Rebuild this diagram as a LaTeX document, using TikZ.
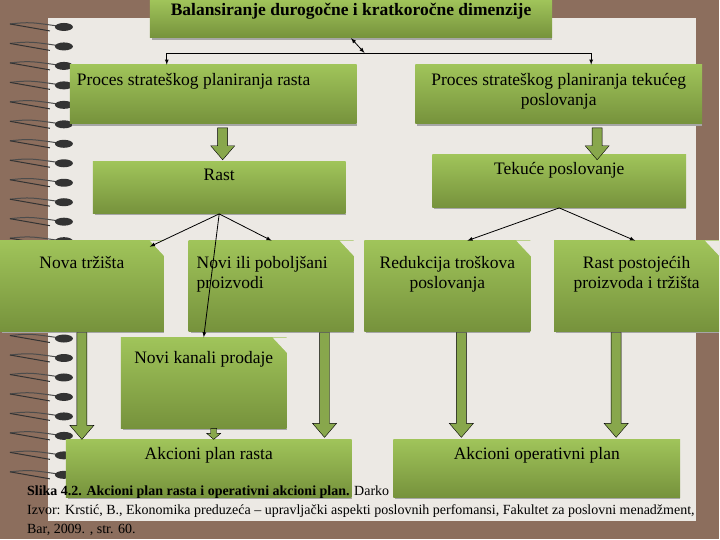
\documentclass[tikz,border=0pt]{standalone}
\usepackage{fontspec}
\setmainfont{Liberation Serif}
\usetikzlibrary{positioning}
\definecolor{bark}{RGB}{140,110,93}
\definecolor{paper}{RGB}{236,233,228}
\definecolor{leaf}{RGB}{160,196,90}
\definecolor{leafdark}{RGB}{118,146,60}
\tikzset{
x=1pt, y=-1pt,
every node/.style={font=\fontsize{17.5}{20}\selectfont},
box/.style={draw=none, top color=leaf, bottom color=leafdark, inner sep=0pt},
caption/.style={anchor=north, align=center, inner sep=2pt},
link/.style={-latex, thick},
}
\newcommand{\greenbox}[6]{% name, x1, y1, x2, y2, snipped corner?
  \node[box, minimum width={(#4-#2)*1pt}, minimum height={(#5-#3)*1pt}]
    (#1) at ({(#2+#4)/2},{(#3+#5)/2}) {};
  \ifnum#6=1 \fill[paper] (#4-14,#3) -- (#4+1,#3) -- (#4+1,#3+16) -- cycle;\fi
  \draw[gray!70, line width=1.5pt] (#2+2,#5+1) -- (#4,#5+1);}
\newcommand{\fatarrow}[3]{% x, top, tip
  \draw[fill=leaf!85!black] (#1-5,#2) -- (#1+5,#2) -- (#1+5,#3-14) -- (#1+12,#3-14)
    -- (#1,#3) -- (#1-12,#3-14) -- (#1-5,#3-14) -- cycle;}
\begin{document}
\begin{tikzpicture}
% background and sheet
\fill[bark] (0,0) rectangle (720,540);
\fill[paper] (48,18) rectangle (697,522);
\foreach \k in {0,...,23} {
  \draw[gray!60!black, line width=1pt] (64,27+19.5*\k) .. controls (30,22+19.5*\k) .. (10,24+19.5*\k);
  \draw[gray!40!black, line width=1pt] (10,24+19.5*\k) -- (50,31+19.5*\k);
  \fill[black!80] (64,27+19.5*\k) ellipse (9 and 4);
}
% boxes
\greenbox{title}{150}{0}{553}{38}{0}
\greenbox{pgrow}{70}{65}{357}{124}{0}
\greenbox{pcur}{416}{65}{703}{124}{0}
\greenbox{rast}{93}{162}{346}{214}{0}
\greenbox{tek}{433}{155}{687}{208}{0}
\greenbox{markets}{0}{241}{164}{332}{1}
\greenbox{products}{189}{241}{354}{332}{1}
\greenbox{costs}{365}{241}{531}{332}{1}
\greenbox{existing}{555}{241}{720}{332}{1}
\greenbox{channels}{121}{338}{287}{429}{1}
\greenbox{apgrow}{66}{440}{352}{498}{0}
\greenbox{apcur}{394}{440}{681}{498}{0}
% texts
\node[caption] at ([yshift=-1pt]title.north) {\textbf{Balansiranje durogočne i kratkoročne dimenzije}};
\node[caption, anchor=north west] at ([xshift=5pt,yshift=-6pt]pgrow.north west) {Proces strateškog planiranja rasta};
\node[caption] at ([yshift=-6pt]pcur.north) {Proces strateškog planiranja tekućeg\\poslovanja};
\node[caption] at ([yshift=-5pt]rast.north) {Rast};
\node[caption] at ([yshift=-6pt]tek.north) {Tekuće poslovanje};
\node[caption] at ([yshift=-14pt]markets.north) {Nova tržišta};
\node[caption, align=left, anchor=north west] at ([xshift=6pt,yshift=-14pt]products.north west) {Novi ili poboljšani\\proizvodi};
\node[caption] at ([yshift=-14pt]costs.north) {Redukcija troškova\\poslovanja};
\node[caption] at ([yshift=-14pt]existing.north) {Rast postojećih\\proizvoda i tržišta};
\node[caption] at ([yshift=-12pt]channels.north) {Novi kanali prodaje};
\node[caption] at ([yshift=-6pt]apgrow.north) {Akcioni plan rasta};
\node[caption] at ([yshift=-6pt]apcur.north) {Akcioni operativni plan};
% connectors
\coordinate (split) at (365,53);
\draw[latex-latex, thick] (title.south) -- (split);
\draw[link] (split) -| (pgrow.north -| 167,0);
\draw[link] (split) -| (pcur.north -| 592,0);
\fatarrow{223}{128}{160}
\fatarrow{598}{128}{160}
\draw[link] (rast.south) -- (150,247);
\draw[link] (rast.south) -- (272,241);
\draw[link] (rast.south) -- (channels.north -| 204,0);
\draw[link] (tek.south) -- (468,241);
\draw[link] (tek.south) -- (636,241);
\fatarrow{82}{333}{440}
\fatarrow{325}{333}{438}
\fatarrow{462}{333}{438}
\fatarrow{617}{333}{438}
\draw[fill=leaf!85!black] (211,429) -- (217,429) -- (217,434) -- (221,434) -- (214,440) -- (207,434) -- (211,434) -- cycle;
% source note
\node[anchor=north west, inner sep=0pt, align=left, font=\fontsize{14}{19}\selectfont] (note) at (27,486)
  {\textbf{Slika 4.2. Akcioni plan rasta i operativni akcioni plan.} Darko\\
   Izvor: Krstić, B., Ekonomika preduzeća – upravljački aspekti poslovnih perfomansi, Fakultet za poslovni menadžment,\\
   Bar, 2009. , str. 60.};
\end{tikzpicture}
\end{document}
